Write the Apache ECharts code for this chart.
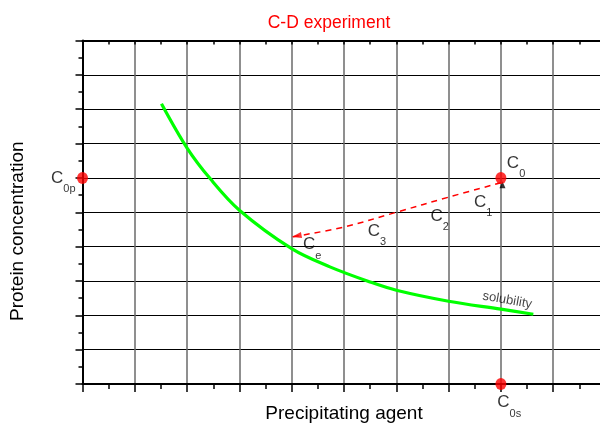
<!DOCTYPE html>
<html>
<head>
<meta charset="utf-8">
<script src="https://cdn.jsdelivr.net/npm/echarts@6/dist/echarts.min.js"></script>
<style>html,body{margin:0;padding:0;background:#fff;}#main{width:600px;height:426px;}</style>
</head>
<body>
<div id="main"></div>
<script>
// ---- data ----
const titleText = 'C-D experiment';
const xAxisName = 'Precipitating agent';
const yAxisName = 'Protein concentration';
const axisMin = 0, axisMax = 10, axisStep = 1;

// solubility curve (green)
const solubilityX = [1.51, 2.0, 2.44, 3.0, 4.0, 4.73, 5.5, 6.0, 7.0, 8.0, 8.62];
const solubilityY = [8.16, 6.87, 5.98, 5.06, 3.94, 3.41, 2.97, 2.73, 2.41, 2.18, 2.03];
const solubilityLabel = 'solubility';
const solubilityLabelX = [8.12];
const solubilityLabelY = [2.44];

// experiment path C0 -> Ce (red dashed)
const pathX = [8.0, 7.0, 6.0, 5.0, 4.0];
const pathY = [5.86, 5.44, 5.0, 4.57, 4.28];
const arrowX = [4.094];
const arrowY = [4.31];

// key points (red dots)
const pointX = [8, 0, 8];
const pointY = [6, 6, 0];
const startMarkX = [8.03];
const startMarkY = [5.8];

// text labels C with subscripts
const labelMain = ['C', 'C', 'C', 'C', 'C', 'C', 'C'];
const labelSub = ['0', '1', '2', '3', 'e', '0p', '0s'];
const labelX = [8.29, 7.66, 6.83, 5.63, 4.39, -0.367, 8.16];
const labelY = [6.38, 5.25, 4.84, 4.41, 4.01, 5.95, -0.59];

// ---- chart ----
const FONT = '"Liberation Sans", Arial, sans-serif';
const zip = (a, b) => a.map((v, i) => [v, b[i]]);

const chart = echarts.init(document.getElementById('main'), null, {renderer: 'canvas'});

const baseX = {
  type: 'value', min: axisMin, max: axisMax, interval: axisStep,
  axisLabel: {show: false}
};
const baseY = {
  type: 'value', min: axisMin, max: axisMax, interval: axisStep,
  axisLabel: {show: false}
};

chart.setOption({
  animation: false,
  backgroundColor: '#fff',
  title: {
    text: titleText, left: 324, top: 9, textAlign: 'center',
    textStyle: {color: '#ff0000', fontSize: 17.5, fontWeight: 'normal', fontFamily: FONT}
  },
  grid: {left: 82.5, top: 40.5, width: 523, height: 343.5, containLabel: false, outerBoundsMode: 'none'},
  xAxis: [
    Object.assign({}, baseX, {
      position: 'bottom',
      name: xAxisName, nameLocation: 'middle', nameGap: 20,
      nameTextStyle: {fontSize: 19, color: '#000', fontFamily: FONT},
      axisLine: {show: true, onZero: false, lineStyle: {color: '#000', width: 2}},
      axisTick: {show: true, inside: false, length: 8, lineStyle: {color: '#000', width: 1.5}},
      minorTick: {show: true, splitNumber: 2, length: 5, lineStyle: {color: '#000', width: 1.5}},
      splitLine: {show: true, lineStyle: {color: '#6a6a6a', width: 1.5}}
    }),
    Object.assign({}, baseX, {
      position: 'top',
      axisLine: {show: true, onZero: false, lineStyle: {color: '#000', width: 2}},
      axisTick: {show: true, inside: true, length: 4, lineStyle: {color: '#000', width: 1.5}},
      minorTick: {show: true, splitNumber: 2, length: 4, lineStyle: {color: '#000', width: 1.5}},
      splitLine: {show: false}
    })
  ],
  yAxis: [
    Object.assign({}, baseY, {
      position: 'left',
      name: yAxisName, nameLocation: 'middle', nameGap: 55, nameRotate: 90,
      nameTextStyle: {fontSize: 19, color: '#000', fontFamily: FONT, padding: [0, 38, 0, 0]},
      axisLine: {show: true, onZero: false, lineStyle: {color: '#000', width: 2}},
      axisTick: {show: true, inside: false, length: 7, lineStyle: {color: '#000', width: 1.5}},
      minorTick: {show: true, splitNumber: 2, length: 4, lineStyle: {color: '#000', width: 1.5}},
      splitLine: {show: true, lineStyle: {color: '#000', width: 1}}
    })
  ],
  series: [
    {
      type: 'line', name: 'solubility', xAxisIndex: 0, yAxisIndex: 0,
      data: zip(solubilityX, solubilityY), smooth: 0.35, showSymbol: false, symbol: 'none',
      lineStyle: {color: '#00ff00', width: 3.2}, z: 5
    },
    {
      type: 'line', name: 'path', data: zip(pathX, pathY), smooth: 0.35, symbol: 'none',
      lineStyle: {color: '#ff0000', width: 1.5, type: [6, 5]}, z: 6
    },
    {
      type: 'scatter', name: 'arrow', data: zip(arrowX, arrowY), symbol: 'triangle',
      symbolSize: [6, 10], symbolRotate: 101, itemStyle: {color: '#ff0000'}, clip: false, z: 7
    },
    {
      type: 'scatter', name: 'startMark', data: zip(startMarkX, startMarkY), symbol: 'triangle',
      symbolSize: [6, 7], itemStyle: {color: '#000'}, clip: false, z: 7
    },
    {
      type: 'scatter', name: 'points', data: zip(pointX, pointY), symbol: 'circle',
      symbolSize: [11, 12], itemStyle: {color: '#ff0000'}, clip: false, z: 8
    },
    {
      type: 'scatter', name: 'labels', clip: false, symbolSize: 0, z: 9,
      data: labelX.map((x, i) => ({value: [x, labelY[i]], main: labelMain[i], sub: labelSub[i]})),
      label: {
        show: true, position: 'inside', align: 'center', verticalAlign: 'middle',
        formatter: p => '{c|' + p.data.main + '}{s|' + p.data.sub + '}',
        rich: {
          c: {fontSize: 17, lineHeight: 20, verticalAlign: 'top', color: '#000', fontFamily: FONT},
          s: {fontSize: 11, lineHeight: 12, padding: [14, 0, 0, 0], verticalAlign: 'top', color: '#000', fontFamily: FONT}
        }
      }
    },
    {
      type: 'scatter', name: 'solLabel', clip: false, symbolSize: 0, z: 9,
      data: zip(solubilityLabelX, solubilityLabelY),
      label: {
        show: true, position: 'inside', formatter: solubilityLabel, rotate: -10,
        fontSize: 13, color: '#111', fontFamily: FONT
      }
    }
  ]
});
</script>
</body>
</html>
